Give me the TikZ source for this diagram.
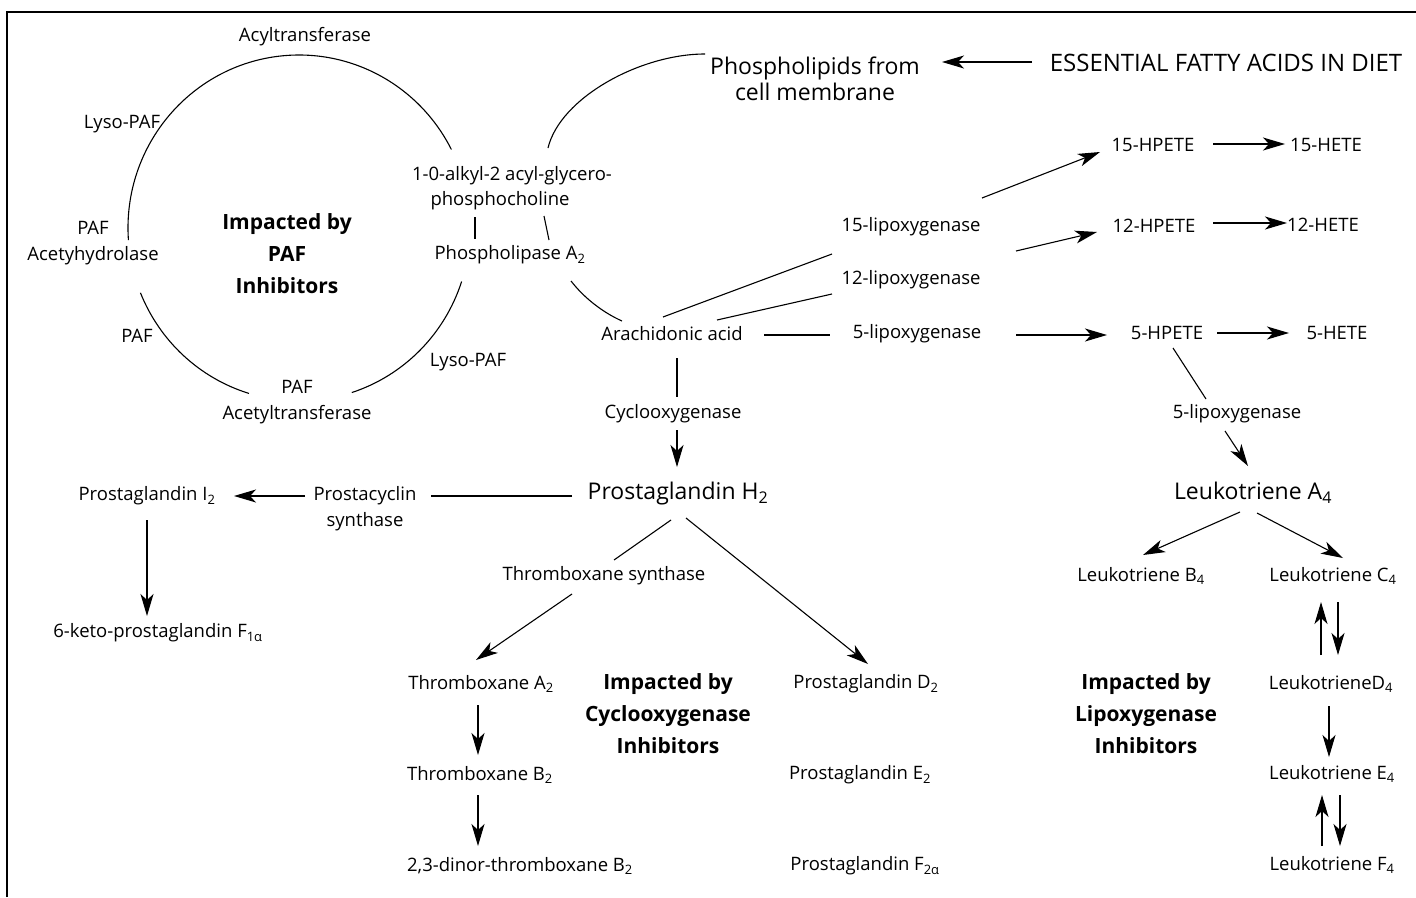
\documentclass[tikz,border=0pt]{standalone}
\usepackage{fontspec}
\setmainfont{Open Sans}
\usetikzlibrary{arrows.meta,calc}
\newcommand{\mysub}[1]{\textsubscript{#1}}
\begin{document}
\begin{tikzpicture}[x=1pt,y=-1pt,
  sm/.style={font=\fontsize{18.5}{26}\selectfont, inner sep=0pt, align=center},
  lg/.style={font=\fontsize{23}{26}\selectfont, inner sep=0pt, align=center},
  bd/.style={font=\bfseries\fontsize{21}{32}\selectfont, inner sep=0pt, align=center},
  ln/.style={line width=1.1pt},
  arr/.style={line width=1.1pt,-{Stealth[length=22pt,width=13pt,inset=6pt]}},
  frame/.style={line width=1.3pt}]
\useasboundingbox (0,0) rectangle (1416,897);
\draw[frame] (7,897) -- (7,12) -- (1416,12);

% ---------- PAF cycle ----------
\node[sm] (acyl) at (305,37) {Acyltransferase};
\node[sm] (lyso1) at (122,124) {Lyso-PAF};
\node[sm] (hyd) at (93,243) {PAF\\Acetyhydrolase};
\node[sm] (paf2) at (137,336) {PAF};
\node[sm] (acet) at (297,402) {PAF\\Acetyltransferase};
\node[sm] (lyso2) at (468,362) {Lyso-PAF};
\node[sm] (alkyl1) at (512,176) {1-0-alkyl-2 acyl-glycero-};
\node[sm] (alkyl2) at (500,201) {phosphocholine};
\node[sm] (pla2) at (510,255) {Phospholipase A\mysub{2}};
\node[bd] (paftxt) at (287,254) {Impacted by\\PAF\\Inhibitors};

\coordinate (cyc) at (299,228);
\draw[ln] (cyc) ++(176:171 and 173) arc[start angle=176, end angle=333, x radius=171, y radius=173];
\draw[ln] (cyc) ++(18:171 and 173) arc[start angle=18, end angle=72, x radius=171, y radius=173];
\draw[ln] (cyc) ++(107:171 and 173) arc[start angle=107, end angle=158, x radius=171, y radius=173];

\draw[ln] ($(alkyl2)+(-25,16)$) -- ($(pla2)+(-35,-16)$);
\draw[ln] ($(alkyl2)+(44,15)$) -- ($(pla2)+(39,-15)$);

% ---------- top ----------
\node[lg] (phos) at (815,79) {Phospholipids from\\cell membrane};
\node[lg,font=\fontsize{24}{26}\selectfont] (efa) at (1226,63) {ESSENTIAL FATTY ACIDS IN DIET};
\draw[arr] ($(efa)+(-194,-1)$) -- ($(phos)+(127,-17)$);
\draw[ln] ($(alkyl1)+(36,-28)$) .. controls +(12,-50) and +(-65,0) .. ($(phos)+(-110,-25)$);

% ---------- arachidonic ----------
\node[sm] (arach) at (672,334) {Arachidonic acid};
\node[sm] (lox15) at (911,227) {15-lipoxygenase};
\node[sm] (lox12) at (911,280) {12-lipoxygenase};
\node[sm] (lox5) at (917,334) {5-lipoxygenase};
\draw[ln] ($(pla2)+(61,26)$) .. controls +(14,18) and +(-18,-8) .. ($(arach)+(-50,-13)$);
\draw[ln] ($(arach)+(-9,-17)$) -- ($(lox15)+(-79,27)$);
\draw[ln] ($(arach)+(45,-14)$) -- ($(lox12)+(-79,14)$);
\draw[ln] ($(arach)+(92,1)$) -- ($(lox5)+(-87,1)$);

\node[sm] (hp15) at (1153,145) {15-HPETE};
\node[sm] (he15) at (1326,145) {15-HETE};
\node[sm] (hp12) at (1154,226) {12-HPETE};
\node[sm] (he12) at (1323,225) {12-HETE};
\node[sm] (hp5) at (1167,333) {5-HPETE};
\node[sm] (he5) at (1337,333) {5-HETE};
\draw[arr] ($(lox15)+(71,-29)$) -- ($(hp15)+(-53,7)$);
\draw[arr] ($(lox15)+(105,24)$) -- ($(hp12)+(-57,6)$);
\draw[arr] ($(lox5)+(99,1)$) -- ($(hp5)+(-60,2)$);
\draw[arr] ($(hp15)+(60,-1)$) -- ($(he15)+(-41,-1)$);
\draw[arr] ($(hp12)+(59,-3)$) -- ($(he12)+(-36,-2)$);
\draw[arr] ($(hp5)+(50,0)$) -- ($(he5)+(-48,0)$);

% ---------- cyclooxygenase ----------
\node[sm] (cox) at (673,414) {Cyclooxygenase};
\node[lg] (pgh2) at (678,494) {Prostaglandin H\mysub{2}};
\draw[ln] ($(arach)+(5,24)$) -- ($(cox)+(4,-17)$);
\draw[arr] ($(cox)+(4,16)$) -- ($(pgh2)+(-1,-27)$);

\node[sm] (pcs) at (365,509) {Prostacyclin\\synthase};
\node[sm] (pgi2) at (147,496) {Prostaglandin I\mysub{2}};
\node[sm] (keto) at (158,633) {6-keto-prostaglandin F\mysub{1α}};
\draw[ln] ($(pgh2)+(-106,2)$) -- ($(pcs)+(66,-13)$);
\draw[arr] ($(pcs)+(-60,-13)$) -- ($(pgi2)+(87,0)$);
\draw[arr] ($(pgi2)+(0,24)$) -- ($(keto)+(-11,-17)$);

\node[sm] (txs) at (604,576) {Thromboxane synthase};
\node[sm] (txa2) at (481,684) {Thromboxane A\mysub{2}};
\node[sm] (txb2) at (480,775) {Thromboxane B\mysub{2}};
\node[sm] (dinor) at (520,866) {2,3-dinor-thromboxane B\mysub{2}};
\node[sm] (pgd2) at (866,684) {Prostaglandin D\mysub{2}};
\node[sm] (pge2) at (860,775) {Prostaglandin E\mysub{2}};
\node[sm] (pgf2) at (865,866) {Prostaglandin F\mysub{2α}};
\node[bd] (coxtxt) at (668,714) {Impacted by\\Cyclooxygenase\\Inhibitors};
\draw[ln] ($(pgh2)+(-7,26)$) -- ($(txs)+(10,-16)$);
\draw[arr] ($(txs)+(-32,18)$) -- ($(txa2)+(-5,-24)$);
\draw[arr] ($(pgh2)+(8,24)$) -- ($(pgd2)+(2,-20)$);
\draw[arr] ($(txa2)+(-3,21)$) -- ($(txb2)+(-2,-20)$);
\draw[arr] ($(txb2)+(-2,20)$) -- ($(dinor)+(-42,-20)$);

% ---------- leukotrienes ----------
\node[sm] (lox5b) at (1237,414) {5-lipoxygenase};
\node[lg] (lta4) at (1253,493) {Leukotriene A\mysub{4}};
\node[sm] (ltb4) at (1141,576) {Leukotriene B\mysub{4}};
\node[sm] (ltc4) at (1333,576) {Leukotriene C\mysub{4}};
\node[sm] (ltd4) at (1331,684) {LeukotrieneD\mysub{4}};
\node[sm] (lte4) at (1332,774) {Leukotriene E\mysub{4}};
\node[sm] (ltf4) at (1332,865) {Leukotriene F\mysub{4}};
\node[bd] (loxtxt) at (1146,714) {Impacted by\\Lipoxygenase\\Inhibitors};
\draw[ln] ($(hp5)+(6,15)$) -- ($(lox5b)+(-31,-15)$);
\draw[arr] ($(lox5b)+(-12,17)$) -- ($(lta4)+(-5,-27)$);
\draw[arr] ($(lta4)+(-13,19)$) -- ($(ltb4)+(2,-21)$);
\draw[arr] ($(lta4)+(4,20)$) -- ($(ltc4)+(10,-18)$);
\draw[arr] ($(ltd4)+(-10,-29)$) -- ($(ltc4)+(-12,26)$);
\draw[arr] ($(ltc4)+(5,26)$) -- ($(ltd4)+(7,-29)$);
\draw[arr] ($(ltd4)+(-2,22)$) -- ($(lte4)+(-3,-17)$);
\draw[arr] ($(ltf4)+(-10,-19)$) -- ($(lte4)+(-10,21)$);
\draw[arr] ($(lte4)+(8,21)$) -- ($(ltf4)+(8,-19)$);
\end{tikzpicture}
\end{document}
